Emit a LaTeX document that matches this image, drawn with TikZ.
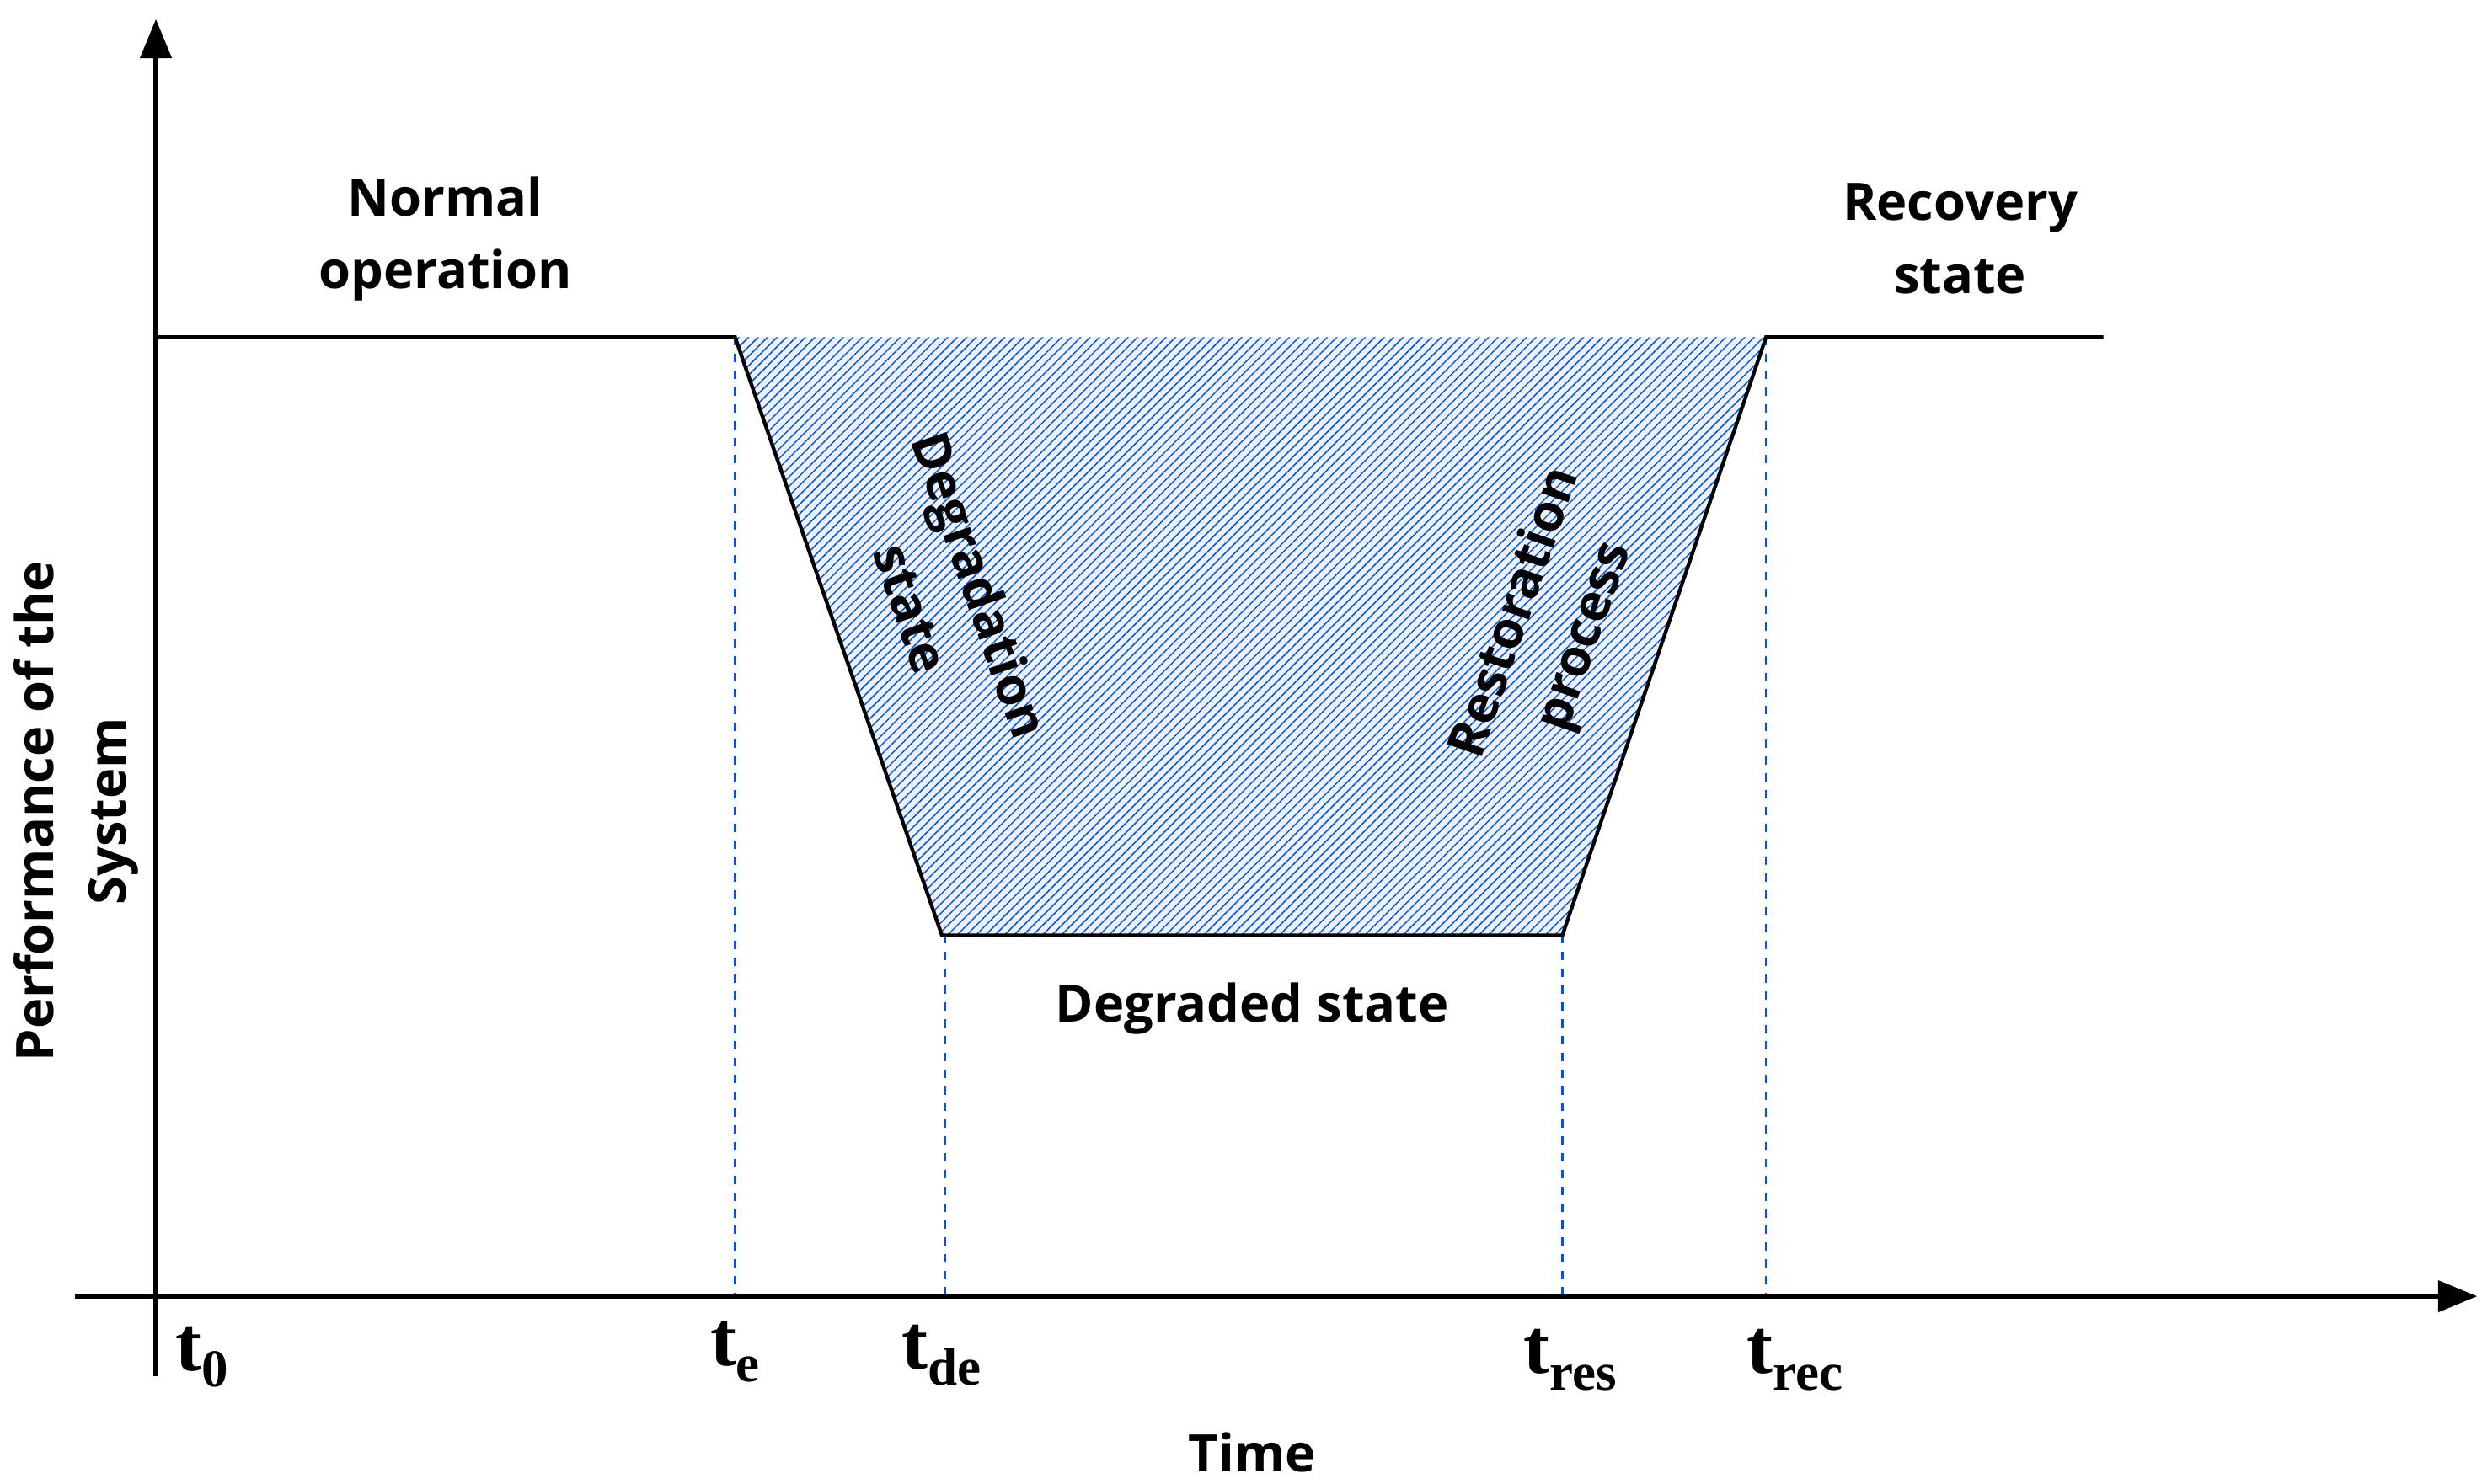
\documentclass[tikz,border=0pt]{standalone}
\usepackage{fontspec}
\setmainfont{Open Sans}
\newfontfamily\tserif{Liberation Serif}
\usetikzlibrary{arrows.meta,patterns.meta}
\newcommand{\tlab}[1]{{\tserif\bfseries t\raisebox{-0.45ex}{\fontsize{19}{20}\selectfont #1}}}
\begin{document}
\begin{tikzpicture}[x=0.02cm,y=-0.02cm,
  lbl/.style={font=\bfseries\fontsize{18.5}{26}\selectfont,align=center},
  tl/.style={font=\fontsize{28}{30}\selectfont},
  guide/.style={draw=blue!70!cyan,dashed,line width=0.7pt},
  axis/.style={line width=1.8pt,-{Triangle[length=14pt,width=11pt]}}]
\useasboundingbox (0,0) rectangle (1560,933);
\coordinate (o) at (98,815);
\coordinate (ytop) at (98,12);
\coordinate (ybot) at (98,865);
\coordinate (xl) at (47,815);
\coordinate (xr) at (1557,815);
\coordinate (a) at (98,212);
\coordinate (b) at (462,212);
\coordinate (c) at (592,588);
\coordinate (d) at (982,588);
\coordinate (e) at (1110,212);
\coordinate (f) at (1322,212);
\fill[blue!6] (b)--(c)--(d)--(e)--cycle;
\fill[pattern={Lines[angle=45,distance=2.4pt,line width=0.45pt]},pattern color=blue!55!cyan!80!black] (b)--(c)--(d)--(e)--cycle;
\draw[guide] (b)--(462,815);
\draw[guide] (594,588)--(594,815);
\draw[guide] (d)--(982,815);
\draw[guide] (e)--(1110,815);
\draw[line width=1.3pt] (a)--(b)--(c)--(d)--(e)--(f);
\draw[axis] (ybot)--(ytop);
\draw[axis] (xl)--(xr);
\node[lbl] (no) at (280,150) {Normal\\operation};
\node[lbl] (rs) at (1232,150) {Recovery\\state};
\node[lbl] (dg) at (787,634) {Degraded state};
\node[lbl] (tm) at (787,913) {Time};
\node[lbl,rotate=90] (py) at (48,510) {Performance of the\\System};
\node[lbl,rotate=-71] (ds) at (595,375) {Degradation\\state};
\node[lbl,rotate=71] (rp) at (975,393) {Restoration\\process};
\node[tl] (t0) at (127,853) {\tlab{0}};
\node[tl] (te) at (462,850) {\tlab{e}};
\node[tl] (tde) at (592,852) {\tlab{de}};
\node[tl] (tres) at (987,855) {\tlab{res}};
\node[tl] (trec) at (1128,855) {\tlab{rec}};
\end{tikzpicture}
\end{document}
